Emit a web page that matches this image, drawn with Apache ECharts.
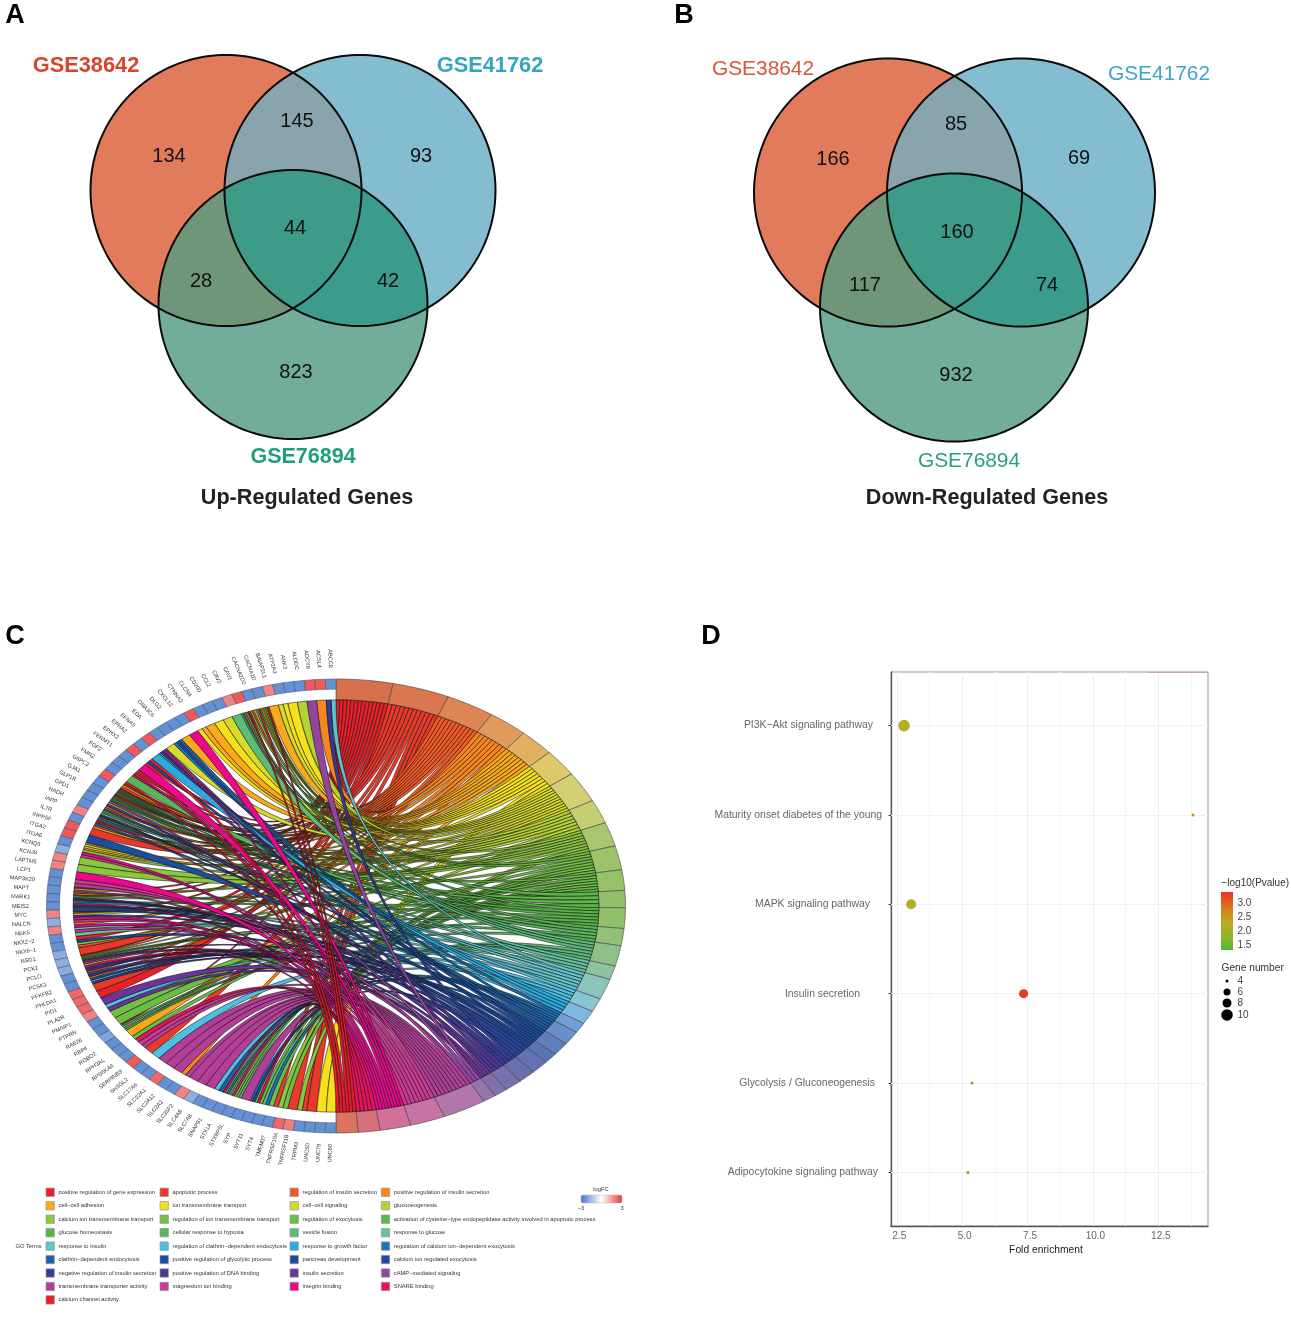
<!DOCTYPE html>
<html><head><meta charset="utf-8">
<style>html,body{margin:0;padding:0;background:#fff}#c{width:1291px;height:1317px}</style>
<script src="https://cdn.jsdelivr.net/npm/echarts@6/dist/echarts.min.js"></script>
</head><body><div id="c"></div>
<script>
// ---------- DATA ----------
const vennSets = ['GSE38642', 'GSE41762', 'GSE76894'];
const vennUpCounts = [134, 145, 93, 44, 28, 42, 823];
const vennDownCounts = [166, 85, 69, 160, 117, 74, 932];

const termNames = ['positive regulation of gene expression','apoptotic process','regulation of insulin secretion','positive regulation of insulin secretion',
'cell-cell adhesion','ion transmembrane transport','cell-cell signaling','gluconeogenesis',
'calcium ion transmembrane transport','regulation of ion transmembrane transport','regulation of exocytosis','activation of cysteine-type endopeptidase activity involved in apoptotic process',
'glucose homeostasis','cellular response to hypoxia','vesicle fusion','response to glucose',
'response to insulin','regulation of clathrin-dependent endocytosis','response to growth factor','regulation of calcium ion-dependent exocytosis',
'clathrin-dependent endocytosis','positive regulation of glycolytic process','pancreas development','calcium ion regulated exocytosis',
'negative regulation of insulin secretion','positive regulation of DNA binding','insulin secretion','cAMP-mediated signaling',
'transmembrane transporter activity','magnesium ion binding','integrin binding','SNARE binding',
'calcium channel activity'];
const termCounts = [13,13,11,9,8,8,9,7,7,7,6,5,6,5,6,4,6,4,4,3,4,4,3,4,4,4,3,3,10,8,7,5,5];

const geneNames = ['ABCC8','ACSL4','ADCY8','ALDOC','ANK3','ATP2A3','BAIAP2L1','CACNA1D','CACNA2D2','CAV1','CAV2','CCL2','CD200','CLCN4','CTNNA2','CXCL12','DLG2','DNAJC6','EDA','EFNA5','EPHA2','EPHX2','FERMT1','FGF2','FMN2','G6PC2','GJA1','GLP1R','GPD1','HADH','IAPP','IL7R','INPP5F','ITGA2','ITGA6','KCNQ3','KCNJ8','LAPTM5','LCP1','MAP3K20','MAPT','MARK1','MEIS2','MYC','NALCN','NEK5','NKX2-2','NKX6-1','NSG1','PCK1','PCLO','PCSK1','PFKFB2','PHLDA1','PID1','PLA2R','PMAIP1','PTPRN','RAB26','RBP4','ROBO2','RPH3AL','RPS6KA6','SERPINB9','SH3GL2','SLC17A6','SLC22A1','SLC2A12','SLC2A2','SLC35F2','SLC4A8','SLC7A8','SNAP91','STX1A','STXBP5L','SYP','SYT11','SYT4','TMEM37','TNFRSF10A','TNFRSF11B','TRPM3','UNC5D','UNC79','UNC80'];
const geneLogFC = [-2.3,2.4,2.4,-2.3,-2.3,-2.3,1.8,-2.3,-2.3,2.4,1.8,-2.3,-2.3,-2.3,2.4,-2.3,-2.3,-2.3,-2.3,2.4,-2.3,2.4,-2.3,-2.3,-2.3,2.4,-2.3,-2.3,-2.3,-2.3,1.8,-2.3,2.4,2.4,-2.3,-1.7,1.8,1.8,-2.3,-2.3,-2.3,-2.3,-2.3,1.8,-1.7,1.8,-2.3,-2.3,-1.7,-1.7,-1.7,-2.3,-2.3,2.2,2.2,2.2,1.8,-2.3,-2.3,-1.9,-2.3,-2.3,-2.3,2.4,-2.3,-2.3,2.2,-2.3,-2.3,1.8,-1.7,-2.3,-2.3,-2.3,-2.3,-2.3,-2.3,-2.3,-2.3,2.2,1.9,-2.3,-2.3,-2.3,-2.3];
// for each gene, the GO terms (index into termNames) its ribbons go to
const geneTerms = [[16,24],[3],[27],[7],[5],[5,6],[4],[32,2,8,9,5,6,12],[32,14,6,2,9],[32,0,13,11,1,14],[14],[6],[5],[4],[4,5],[30],[4],[20,22,19],[6],[26,30,21,25,18],[18],[32,21,0],[30],[32,1,30,0],[13],[32,0,3,2],[0,1,8,11,13,18,6,7,2],[1,2,3,10,12,15,6,11],[27,7,25,2],[2,20,7,12,16],[2,24,0,16,15,17,7,29],[0,20,2,4],[1],[21],[3,6,5,4],[8,30,29],[8],[8],[30],[29,28],[0,6,29,12,4],[0,9,25,24,11],[18,30,20,22,16],[22,0,6,23],[30,29,3],[30,16,29],[15,0],[23,8,2],[1],[0,3,7,12,13,21,29],[27,6,31,25],[22,2,26,24],[3,21,16,23],[1],[0],[26],[17,26],[9],[10],[0,12,15,7,13],[4],[10,31],[29,28],[1],[17],[28],[28],[28],[3,28],[28],[28],[28],[17,20],[31,10,19,9,14],[31,9,10,14],[28],[19,23,10,31],[10,14,19],[9,1],[8,9],[1],[8,1],[1],[5],[5]];

const pathways = ['PI3K\u2212Akt signaling pathway','Maturity onset diabetes of the young','MAPK signaling pathway','Insulin secretion','Glycolysis / Gluconeogenesis','Adipocytokine signaling pathway'];
const foldEnrichment = [2.78,13.83,3.05,7.35,5.38,5.22];
const minusLogP = [2.35,2.7,2.3,3.35,1.42,1.38];
const geneNumber = [10,4,9,8,4,4];
const foldTicks = [2.5,5,7.5,10,12.5];
const foldMinorTicks = [3.75,6.25,8.75,11.25,13.75];
const pLegendTicks = [3,2.5,2,1.5];
const sizeLegendValues = [4,6,8,10];

// ---------- STYLE / LAYOUT ----------
const FONT = '"Liberation Sans", Arial, sans-serif';
const vennFill = ['#E27B5C','#84BCD0','#72AD9C','#88A4AC','#6F9679','#3B9C8E','#3E9B88'];
const vennA = {circles:[[226,190.5,135.5],[360,190.5,135.5],[293,304.5,134.5]],
  labels:[[169,156],[297,121],[421,156],[295,228],[201,281],[388,281],[296,372]]};
const vennB = {circles:[[888,192.5,134],[1021,192.5,134],[954,307.5,134]],
  labels:[[833,159],[956,124],[1079,158],[957,232],[865,285],[1047,285],[956,375]]};
const termColors = ['#E8202A','#E8392A','#F15A24','#F7861E','#FAAA19','#F4E11C','#D6DB2A','#B2D235','#8CC63E','#72BF44','#6ABD45','#5CB848','#57B548','#58B65A','#5DBB7A','#63C3A0','#62C4CB','#4FC0E2','#29ABE2','#1C75BC','#1B5FAA','#1C4DA1','#1F48A0','#2545A0','#303C96','#4B3694','#6A3597','#93449E','#B23E97','#CC3A93','#EC078C','#E8115F','#EB1C2D'];
const termRingColors = ['#D8704E','#DA7650','#DE8554','#E09A5B','#E1B061','#DDC96C','#D5CF73','#C6CE73','#A9C66F','#9CC26B','#96C06A','#92BF6A','#92BF6A','#92C078','#8FC08A','#8DC2A0','#8BC4BC','#88C5D4','#7FB7DE','#6FA0D4','#6A8EC8','#5F7FBC','#5B74B3','#6272B2','#6A70AE','#7570AE','#8271AC','#9674AE','#B277AA','#C773A6','#D26F9B','#D8707C','#DA7460'];
const chord = {cx:336, cy:906, rx:289.5, ry:227, ribbon:0.908, geneIn:0.955, labelR:1.09};
const plotD = {left:891, top:672, width:317, height:554};
const labelGapD = [18,9,21,31,16,13];
const pColor = ['#4DB82E','#8FB52A','#B4AE22','#D9801F','#E8312A'];

// ---------- helpers ----------
const D2R = Math.PI/180;
function circlePoly(c){const p=[];for(let i=0;i<180;i++){const a=i*2*D2R;p.push([c[0]+c[2]*Math.cos(a),c[1]+c[2]*Math.sin(a)]);}return p;}
function clipConvex(sub, c){
  const clip=circlePoly(c);let out=sub;
  for(let i=0;i<clip.length;i++){
    const A=clip[i],B=clip[(i+1)%clip.length],inp=out;out=[];
    const inside=P=>(B[0]-A[0])*(P[1]-A[1])-(B[1]-A[1])*(P[0]-A[0])>=0;
    for(let j=0;j<inp.length;j++){
      const P=inp[j],Q=inp[(j+1)%inp.length],ip=inside(P),iq=inside(Q);
      if(ip)out.push(P);
      if(ip!==iq){
        const d1=(B[0]-A[0])*(Q[1]-P[1])-(B[1]-A[1])*(Q[0]-P[0]);
        const t=((B[0]-A[0])*(A[1]-P[1])-(B[1]-A[1])*(A[0]-P[0]))/d1;
        out.push([P[0]+t*(Q[0]-P[0]),P[1]+t*(Q[1]-P[1])]);
      }
    }
  }
  return out;
}
function vennSeries(layout){
  const [a,b,c]=layout.circles;
  const regions=[circlePoly(a),circlePoly(b),circlePoly(c),
    clipConvex(circlePoly(a),b),clipConvex(circlePoly(a),c),clipConvex(circlePoly(b),c),
    clipConvex(clipConvex(circlePoly(a),b),c)];
  const outlines=[circlePoly(a),circlePoly(b),circlePoly(c)];
  return {type:'custom',coordinateSystem:'cartesian2d',xAxisIndex:0,yAxisIndex:0,silent:true,clip:false,
    data:[0,1,2,3,4,5,6,7,8,9].map(i=>[i,0]),
    renderItem(params,api){
      const i=api.value(0);
      if(i<7)return {type:'polygon',shape:{points:regions[i].map(p=>api.coord(p))},style:{fill:vennFill[i],stroke:null}};
      return {type:'polygon',shape:{points:outlines[i-7].map(p=>api.coord(p))},style:{fill:null,stroke:'#0a0a0a',lineWidth:2}};
    }};
}
function txt(text,x,y,size,color,o){o=o||{};
  return {name:text,value:[x,size>15?y+0.8:y],label:{formatter:text,fontSize:size,color:color,fontWeight:o.weight||'normal',fontFamily:FONT,position:o.pos||'inside',distance:0}};
}
function unit(th,r,side){return [side*r*Math.sin(th*D2R),r*Math.cos(th*D2R)];}
function arc(th0,th1,r,side,n){const p=[];for(let i=0;i<=n;i++)p.push(unit(th0+(th1-th0)*i/n,r,side));return p;}
function bez(P,Q,n){const p=[];for(let i=1;i<n;i++){const t=i/n,u=1-t;p.push([u*u*P[0]+t*t*Q[0],u*u*P[1]+t*t*Q[1]]);}return p;}
function lerpHex(h,t){const v=parseInt(h.slice(1),16),r=v>>16,g=(v>>8)&255,b=v&255;
  return 'rgb('+Math.round(255+(r-255)*t)+','+Math.round(255+(g-255)*t)+','+Math.round(255+(b-255)*t)+')';}
function fcColor(v){return v<0?lerpHex('#3670C6',Math.min(1,-v/3)):lerpHex('#E8312F',Math.min(1,v/3));}
function dotSize(n){return n<=6?3+(n-4)*2:7+(n-6)*(n>=10?1.15:1);}

// ---------- chord geometry ----------
const nGenes=geneNames.length, geneStep=180/nGenes;
const totalCount=termCounts.reduce((a,b)=>a+b,0), termUnit=180/totalCount;
const termStart=[];let acc=0;termCounts.forEach(c=>{termStart.push(acc);acc+=c*termUnit;});
const linksPerTerm=termCounts.map(()=>0);geneTerms.forEach(ts=>ts.forEach(t=>linksPerTerm[t]++));
const links=[];const seen=termCounts.map(()=>0);
geneTerms.forEach((ts,g)=>ts.forEach((t,k)=>{
  const gw=geneStep/ts.length, tw=termCounts[t]*termUnit/linksPerTerm[t];
  links.push({t,g0:g*geneStep+k*gw,g1:g*geneStep+(k+1)*gw,t0:termStart[t]+seen[t]*tw,t1:termStart[t]+(seen[t]+1)*tw});
  seen[t]++;
}));
links.sort((a,b)=>a.t-b.t||a.t0-b.t0);

// ---------- page annotations ----------
const texts=[];
[['A',15,15],['B',684,15],['C',15,636],['D',711,636]].forEach(l=>texts.push(txt(l[0],l[1],l[2],27,'#000',{weight:'bold'})));
texts.push(txt(vennSets[0],86,65,21.8,'#D8442A',{weight:'bold'}));
texts.push(txt(vennSets[1],490,65,21.8,'#35A5BE',{weight:'bold'}));
texts.push(txt(vennSets[2],303,456,21.5,'#1F9E7E',{weight:'bold'}));
texts.push(txt('Up-Regulated Genes',307,497,21.6,'#222',{weight:'bold'}));
texts.push(txt(vennSets[0],763,68,20.9,'#D9543A'));
texts.push(txt(vennSets[1],1159,73,20.9,'#3AA8C5'));
texts.push(txt(vennSets[2],969,460,20.9,'#2A9D85'));
texts.push(txt('Down-Regulated Genes',987,497,21.6,'#222',{weight:'bold'}));
vennUpCounts.forEach((v,i)=>texts.push(txt(String(v),vennA.labels[i][0],vennA.labels[i][1],20,'#111')));
vennDownCounts.forEach((v,i)=>texts.push(txt(String(v),vennB.labels[i][0],vennB.labels[i][1],20,'#111')));
// chord legend
const legCols=[46,160,290,381.3], legRow0=1192.3, legRowStep=13.45;
termNames.forEach((n,i)=>{
  const c=i%4,r=Math.floor(i/4);
  texts.push(txt(n.replace(/-/g,'\u2212'),legCols[c]+12,legRow0+r*legRowStep,5.75,'#333',{pos:'right'}));
});
texts.push(txt('GO Terms',28.5,legRow0+4*legRowStep,5.75,'#333'));
texts.push(txt('logFC',601,1189,5.75,'#333'));
texts.push(txt('\u22123',581,1208,5.75,'#333'));
texts.push(txt('3',622,1208,5.75,'#333'));
// D legends
texts.push(txt('\u2212log10(Pvalue)',1221,883,10,'#333',{pos:'right'}));
const pY=v=>945-(v-1.5)*28;
pLegendTicks.forEach(v=>texts.push(txt(v.toFixed(1),1237,pY(v),10,'#444',{pos:'right'})));
texts.push(txt('Gene number',1221,968,10.2,'#333',{pos:'right'}));
const sizeY=[981,992,1003,1015];
sizeLegendValues.forEach((v,i)=>texts.push(txt(String(v),1237,sizeY[i],10,'#444',{pos:'right'})));

// ---------- option ----------
const series=[
  vennSeries(vennA), vennSeries(vennB),
  // term ring
  {type:'custom',xAxisIndex:1,yAxisIndex:1,coordinateSystem:'cartesian2d',silent:true,clip:false,
   data:termCounts.map((c,i)=>[i,c]),
   renderItem(p,api){const i=api.value(0),t0=termStart[i],t1=t0+api.value(1)*termUnit;
     const pts=arc(t0,t1,1,1,14).concat(arc(t1,t0,chord.ribbon,1,14));
     return {type:'polygon',shape:{points:pts.map(q=>api.coord(q))},style:{fill:termRingColors[i],stroke:'#444',lineWidth:0.6}};}},
  // gene ring and labels
  {type:'custom',xAxisIndex:1,yAxisIndex:1,coordinateSystem:'cartesian2d',silent:true,clip:false,
   data:geneLogFC.map((v,i)=>[i,v]),
   renderItem(p,api){const i=api.value(0),g0=i*geneStep,g1=g0+geneStep,m=g0+geneStep/2;
     const pts=arc(g0,g1,1,-1,4).concat(arc(g1,g0,chord.geneIn,-1,4));
     const L=api.coord(unit(m,chord.labelR,-1));
     const rot=-Math.atan2(chord.ry*Math.cos(m*D2R),chord.rx*Math.sin(m*D2R));
     return {type:'group',children:[
       {type:'polygon',shape:{points:pts.map(q=>api.coord(q))},style:{fill:fcColor(api.value(1)),stroke:'#3c4a68',lineWidth:0.5}},
       {type:'text',x:L[0],y:L[1],rotation:rot,style:{text:geneNames[i].replace(/-/g,'\u2212'),fontSize:5.6,fontFamily:FONT,fill:'#333',align:'center',verticalAlign:'middle'}}
     ]};}},
  // ribbons
  {type:'custom',xAxisIndex:1,yAxisIndex:1,coordinateSystem:'cartesian2d',silent:true,clip:false,
   data:links.map((l,i)=>[i,l.t]),
   renderItem(p,api){const l=links[api.value(0)],r=chord.ribbon;
     const A=unit(l.g0,r,-1),B=unit(l.t0,r,1),C=unit(l.t1,r,1),E=unit(l.g1,r,-1);
     const pts=[A].concat(bez(A,B,28),arc(l.t0,l.t1,r,1,3),bez(C,E,28),arc(l.g1,l.g0,r,-1,3));
     return {type:'polygon',shape:{points:pts.map(q=>api.coord(q))},style:{fill:termColors[l.t],stroke:'#0c0c0c',lineWidth:0.55}};}},
  // legend swatches
  {type:'custom',xAxisIndex:0,yAxisIndex:0,coordinateSystem:'cartesian2d',silent:true,clip:false,
   data:termNames.map((n,i)=>[i,0]),
   renderItem(p,api){const i=api.value(0),c=i%4,r=Math.floor(i/4);
     const P=api.coord([legCols[c],legRow0+r*legRowStep-4.2]);
     return {type:'rect',shape:{x:P[0],y:P[1],width:8.4,height:8.4},style:{fill:termColors[i],stroke:'#999',lineWidth:0.7}};}},
  // colour bars and top-border tint
  {type:'custom',xAxisIndex:0,yAxisIndex:0,coordinateSystem:'cartesian2d',silent:true,clip:false,z:6,
   data:[[0,0],[1,0],[2,0]],
   renderItem(p,api){
     const k=api.value(0);
     if(k===0){const P=api.coord([581,1195]);
       return {type:'rect',shape:{x:P[0],y:P[1],width:41,height:8,r:1.5},style:{stroke:'#bbb',lineWidth:0.5,fill:new echarts.graphic.LinearGradient(0,0,1,0,[{offset:0,color:'#4477CC'},{offset:0.5,color:'#ffffff'},{offset:1,color:'#EB3A36'}])}};}
     if(k===1){const P=api.coord([1221,892]);
       return {type:'rect',shape:{x:P[0],y:P[1],width:12,height:58},style:{fill:new echarts.graphic.LinearGradient(0,0,0,1,[{offset:0,color:'#E8312A'},{offset:0.3,color:'#D9801F'},{offset:0.55,color:'#B4AE22'},{offset:0.78,color:'#8FB52A'},{offset:1,color:'#4DB83A'}])}};}
     const a=api.coord([1148,672.5]),b=api.coord([1208,672.5]);
     return {type:'line',shape:{x1:a[0],y1:a[1],x2:b[0],y2:b[1]},style:{stroke:'#c9a9a0',lineWidth:1}};
   }},
  {type:'scatter',name:'sizeLegend',xAxisIndex:0,yAxisIndex:0,silent:true,
   data:sizeLegendValues.map((v,i)=>[1227,sizeY[i],v]),symbolSize:d=>dotSize(d[2]),itemStyle:{color:'#000',opacity:1}},
  {type:'scatter',name:'pageText',xAxisIndex:0,yAxisIndex:0,silent:true,symbolSize:1,itemStyle:{color:'transparent',opacity:1},
   label:{show:true},labelLayout:{hideOverlap:false},data:texts,z:20},
  // panel D points
  {type:'scatter',name:'enrichment',xAxisIndex:2,yAxisIndex:2,silent:true,
   data:pathways.map((n,i)=>[foldEnrichment[i],i+1,minusLogP[i],geneNumber[i]]),
   symbolSize:d=>dotSize(d[3]),z:5,itemStyle:{opacity:1},
   markLine:{silent:true,symbol:'none',animation:false,label:{show:false},precision:4,z:1,
     data:foldTicks.map(v=>({xAxis:v,lineStyle:{color:'#eeeeee',width:1,type:'solid'}}))
      .concat(foldMinorTicks.map(v=>({xAxis:v,lineStyle:{color:'#f5f5f5',width:1,type:'solid'}})))
      .concat(pathways.map((n,i)=>({yAxis:i+1,lineStyle:{color:'#f0f0f0',width:1,type:'solid'}})))}}
];
const richD={};labelGapD.forEach((g,i)=>{richD['r'+(i+1)]={padding:[0,g,0,0],fontSize:10.4,color:'#666',fontFamily:FONT};});
const opt={
  animation:false,backgroundColor:'#fff',
  grid:[
    {left:0,top:0,width:1291,height:1317,show:false},
    {left:chord.cx-chord.rx,top:chord.cy-chord.ry,width:2*chord.rx,height:2*chord.ry,show:false},
    {left:plotD.left,top:plotD.top,width:plotD.width,height:plotD.height,show:true,borderColor:'#999',borderWidth:1,backgroundColor:'transparent'}
  ],
  xAxis:[
    {gridIndex:0,type:'value',show:false,min:0,max:1291},
    {gridIndex:1,type:'value',show:false,min:-1,max:1},
    {gridIndex:2,type:'value',min:2.28,max:14.4,
     name:'Fold enrichment',nameLocation:'middle',nameGap:19,nameTextStyle:{fontSize:10.3,color:'#222',fontFamily:FONT,padding:[0,7,0,0]},
     axisLine:{show:true,onZero:false,lineStyle:{color:'#555',width:1.3}},
     axisTick:{show:false},splitLine:{show:false},minorTick:{show:false},
     axisLabel:{customValues:foldTicks,formatter:v=>v.toFixed(1),fontSize:10,color:'#666',fontFamily:FONT,margin:5,padding:[0,0,0,5]}}
  ],
  yAxis:[
    {gridIndex:0,type:'value',show:false,min:0,max:1317,inverse:true},
    {gridIndex:1,type:'value',show:false,min:-1,max:1},
    {gridIndex:2,type:'value',min:0.4,max:6.6,inverse:true,
     axisLine:{show:true,onZero:false,lineStyle:{color:'#555',width:1.3}},
     axisTick:{show:true,customValues:[1,2,3,4,5,6],length:2.5,lineStyle:{color:'#333'}},splitLine:{show:false},
     axisLabel:{customValues:[1,2,3,4,5,6],formatter:v=>'{r'+v+'|'+pathways[v-1]+'}',rich:richD,margin:0,align:'right'}}
  ],
  visualMap:[{show:false,type:'continuous',dimension:2,min:1.32,max:3.39,seriesIndex:series.findIndex(s=>s.name==='enrichment'),inRange:{color:pColor}}],
  series
};
const chart=echarts.init(document.getElementById('c'),null,{renderer:'canvas'});
chart.setOption(opt);
</script></body></html>
